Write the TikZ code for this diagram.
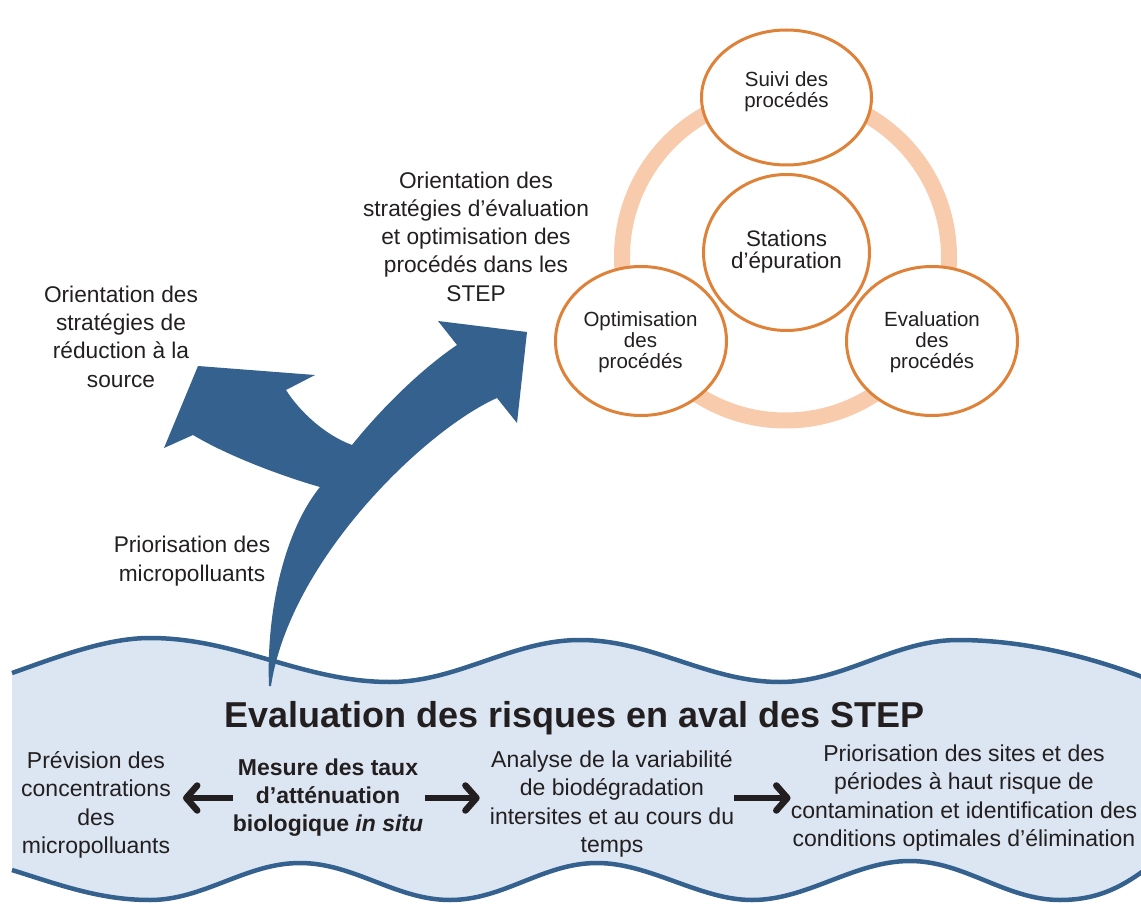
\documentclass[tikz,border=0pt]{standalone}
\usepackage{fontspec}
\setmainfont{Liberation Sans}
\usetikzlibrary{arrows.meta,shapes.geometric}
\definecolor{arrowblue}{HTML}{35618F}
\definecolor{bandfill}{HTML}{DCE6F2}
\definecolor{ringcol}{HTML}{F9CBAD}
\definecolor{circcol}{HTML}{DF8239}
\definecolor{txt}{HTML}{231F20}
\begin{document}
\begin{tikzpicture}[x=1pt,y=-1pt,
  lbl/.style={text=txt, align=center, inner sep=0pt, font=\fontsize{22.7}{28.3}\selectfont},
  bandtxt/.style={text=txt, align=center, inner sep=0pt, font=\fontsize{23}{28.2}\selectfont},
  circtxt/.style={text=txt, align=center, inner sep=0pt, font=\fontsize{20.5}{21}\selectfont},
  bubble/.style={ellipse, draw=circcol, line width=3pt, fill=white, inner sep=0pt},
  bandarrow/.style={draw=txt, line width=6.5pt, -{Straight Barb[length=11pt,width=25pt,round]}},
  bandedge/.style={draw=arrowblue, line width=4.5pt},
]
\useasboundingbox (0,0) rectangle (1141,904);
\clip (0,0) rectangle (1141,904);

% ring and bubbles
\draw[ringcol, line width=16pt] (785.5,257) circle[radius=163.5pt];
\node[bubble, minimum width=170pt, minimum height=135pt] (suivi) at (786.5,97.5) {};
\node[bubble, minimum width=166pt, minimum height=156pt] (station) at (786.5,252.5) {};
\node[bubble, minimum width=171pt, minimum height=149pt] (optim) at (641,341) {};
\node[bubble, minimum width=171pt, minimum height=149pt] (evalp) at (932,341) {};
\node[circtxt] (suivit) at (786.5,91.5) {Suivi des\\procédés};
\node[circtxt, font=\fontsize{22.4}{22.3}\selectfont] (stationt) at (786.5,252) {Stations\\d’épuration};
\node[circtxt] (optimt) at (640.5,342.5) {Optimisation\\des\\procédés};
\node[circtxt] (evalt) at (932,342.5) {Evaluation\\des\\procédés};

% upper labels
\node[lbl] (redsrc) at (121,336.5) {Orientation des\\stratégies de\\réduction à la\\source};
\node[lbl] (optstep) at (476,236.5) {Orientation des\\stratégies d’évaluation\\et optimisation des\\procédés dans les\\STEP};
\node[lbl] (prio) at (192,561) {Priorisation des\\micropolluants};

% wavy band
\fill[bandfill] (12,673) .. controls (55,658) and (105,638) .. (150,638)
 .. controls (237,638) and (303,682) .. (390,682)
 .. controls (458,682) and (512,640) .. (580,640)
 .. controls (652,640) and (708,682) .. (780,682)
 .. controls (844,682) and (894,640) .. (958,640)
 .. controls (1030,640) and (1100,660) .. (1150,680)
 -- (1150,866)
 .. controls (1125,885) and (1100,900) .. (1060,900)
 .. controls (1006,900) and (964,861) .. (910,861)
 .. controls (854,861) and (808,900) .. (752,900)
 .. controls (700,900) and (650,863) .. (597,863)
 .. controls (543,863) and (504,900) .. (450,900)
 .. controls (396,900) and (354,863) .. (300,863)
 .. controls (246,863) and (204,900) .. (150,900)
 .. controls (100,900) and (60,885) .. (12,870) -- cycle;
\draw[bandedge] (12,673) .. controls (55,658) and (105,638) .. (150,638)
 .. controls (237,638) and (303,682) .. (390,682)
 .. controls (458,682) and (512,640) .. (580,640)
 .. controls (652,640) and (708,682) .. (780,682)
 .. controls (844,682) and (894,640) .. (958,640)
 .. controls (1030,640) and (1100,660) .. (1150,680);
\draw[bandedge] (1150,866)
 .. controls (1125,885) and (1100,900) .. (1060,900)
 .. controls (1006,900) and (964,861) .. (910,861)
 .. controls (854,861) and (808,900) .. (752,900)
 .. controls (700,900) and (650,863) .. (597,863)
 .. controls (543,863) and (504,900) .. (450,900)
 .. controls (396,900) and (354,863) .. (300,863)
 .. controls (246,863) and (204,900) .. (150,900)
 .. controls (100,900) and (60,885) .. (12,870);

% big forked arrow
\fill[arrowblue] (269,686)
 .. controls (266,610) and (285,530) .. (320,487)
 .. controls (295,480) and (235,460) .. (193,435)
 -- (164,448) -- (198,366) -- (315,375) -- (286,390)
 .. controls (300,412) and (325,435) .. (352,445)
 .. controls (380,410) and (420,370) .. (457,345)
 -- (438,321) -- (527,332) -- (517,423) -- (497,398)
 .. controls (425,430) and (290,560) .. (271,686) -- cycle;

% band texts
\node[text=txt, inner sep=0pt, anchor=base, font=\bfseries\fontsize{36}{40}\selectfont] (title) at (574.5,727) {Evaluation des risques en aval des STEP};
\node[bandtxt] (prev) at (96,805) {Prévision des\\concentrations\\des\\micropolluants};
\node[bandtxt, font=\bfseries\fontsize{23}{28}\selectfont] (mesure) at (328,798) {Mesure des taux\\d’atténuation\\biologique \textit{in situ}};
\node[bandtxt] (analyse) at (612,804) {Analyse de la variabilité\\de biodégradation\\intersites et au cours du\\temps};
\node[bandtxt] (prior) at (964,798) {Priorisation des sites et des\\périodes à haut risque de\\contamination et identification des\\conditions optimales d’élimination};

\draw[bandarrow, shorten >=12pt] (mesure.west) -- (prev.east |- mesure.west);
\draw[bandarrow, shorten <=2pt, shorten >=10pt] (mesure.east) -- (analyse.west |- mesure.east);
\draw[bandarrow] (analyse.east |- prior.west) -- (prior.west);
\end{tikzpicture}
\end{document}
